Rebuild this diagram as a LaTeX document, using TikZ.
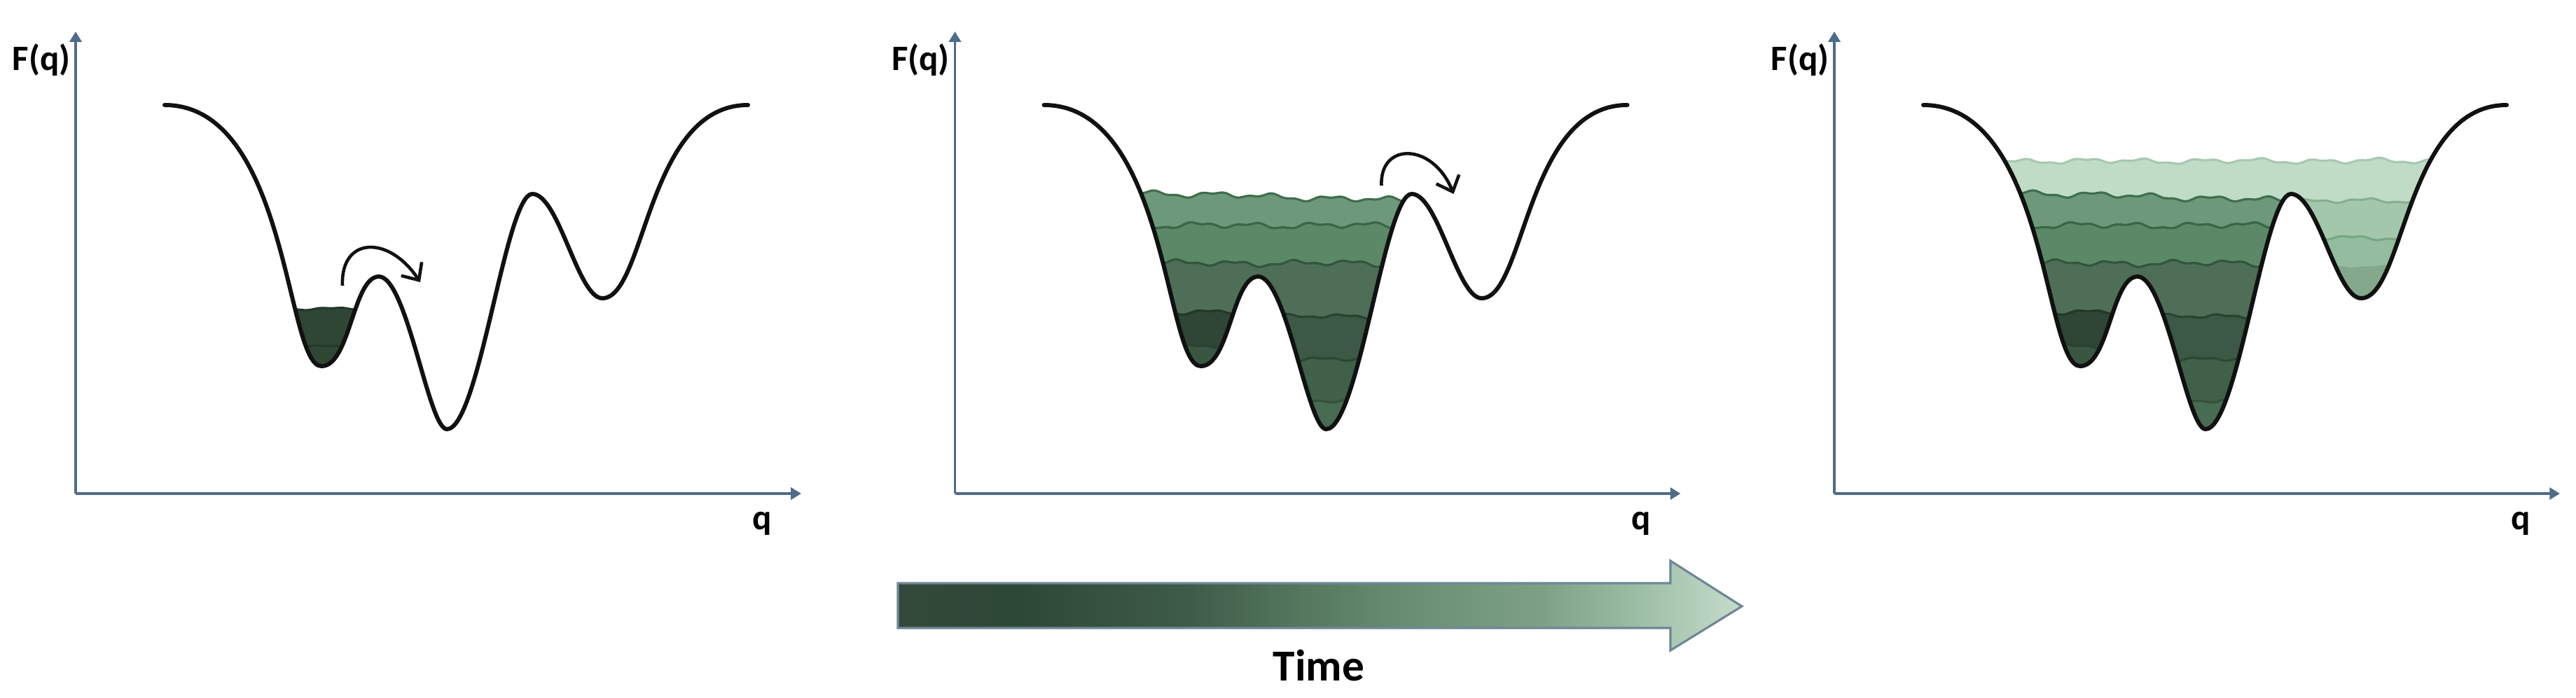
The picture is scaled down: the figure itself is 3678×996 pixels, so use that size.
\documentclass[tikz,border=0pt]{standalone}
\usepackage{fontspec}
\setmainfont{Carlito}
\usetikzlibrary{arrows.meta}
\definecolor{axisc}{HTML}{4F6B8A}
\definecolor{curvec}{HTML}{111111}
\definecolor{pOneFill}{HTML}{2F4635}
\definecolor{pOneLine}{HTML}{243829}
\definecolor{bAfill}{HTML}{6C997A}\definecolor{bAline}{HTML}{3F6E4C}
\definecolor{bBfill}{HTML}{5B8968}\definecolor{bBline}{HTML}{386646}
\definecolor{bCfill}{HTML}{4F6E58}\definecolor{bCline}{HTML}{30563C}
\definecolor{mDfill}{HTML}{2F4535}\definecolor{mDline}{HTML}{223827}
\definecolor{mEfill}{HTML}{3A5642}\definecolor{mEline}{HTML}{294330}
\definecolor{nDfill}{HTML}{3C5945}\definecolor{nDline}{HTML}{284330}
\definecolor{nEfill}{HTML}{40604A}\definecolor{nEline}{HTML}{2B4834}
\definecolor{nFfill}{HTML}{486B52}\definecolor{nFline}{HTML}{32533C}
\definecolor{topfill}{HTML}{C0DCC7}\definecolor{topline}{HTML}{A8C8B0}
\definecolor{rAfill}{HTML}{A2C7AB}\definecolor{rAline}{HTML}{86B090}
\definecolor{rBfill}{HTML}{94BC9E}\definecolor{rBline}{HTML}{7BA686}
\definecolor{rCfill}{HTML}{83A88B}
\definecolor{tA}{HTML}{34493B}
\definecolor{tB}{HTML}{2D4837}
\definecolor{tC}{HTML}{3E5A48}
\definecolor{tD}{HTML}{55785F}
\definecolor{tE}{HTML}{6A9175}
\definecolor{tF}{HTML}{7DA085}
\definecolor{tG}{HTML}{96B9A0}
\definecolor{tH}{HTML}{C6DCCB}
\definecolor{arrowrim}{HTML}{6F8796}
\pgfdeclarehorizontalshading{timeshade}{100bp}{color(0bp)=(tA); color(25bp)=(tA); color(32bp)=(tB); color(42bp)=(tC); color(49bp)=(tD); color(56bp)=(tE); color(63bp)=(tF); color(68bp)=(tG); color(75bp)=(tH); color(100bp)=(tH)}
% the energy landscape, in pixel units of one panel
\newcommand\fqcurve{(235,150) .. controls (412,150) and (408,523) .. (459,523)
  .. controls (500,523) and (504,395) .. (541,395)
  .. controls (581,395) and (612,613) .. (638,613)
  .. controls (684,613) and (722,277) .. (760,277)
  .. controls (798,277) and (825,426) .. (860,426)
  .. controls (922,426) and (923,150) .. (1068,150)}
% wavy water layer: x1 x2 level slope phase amplitude fill stroke
\newcommand\wav[8]{%
  \fill[#7] plot[domain=#1:#2,samples=150] (\x,{#3+#4*(\x-500)+#6*sin(4.3*\x+#5)+0.5*#6*sin(10.7*\x+1.7*#5)+0.4*#6*sin(1.9*\x+0.6*#5)}) -- (#2,720) -- (#1,720) -- cycle;
  \draw[#8,line width=0.9pt] plot[domain=#1:#2,samples=150] (\x,{#3+#4*(\x-500)+#6*sin(4.3*\x+#5)+0.5*#6*sin(10.7*\x+1.7*#5)+0.4*#6*sin(1.9*\x+0.6*#5)});}
\newcommand\panelframe[1]{%
  \coordinate (o#1) at (108,705);
  \coordinate (ytop#1) at (108,45);
  \coordinate (xend#1) at (1144,705);
  \draw[axisline] (o#1) -- (ytop#1);
  \draw[axisline] (o#1) -- (xend#1);
  \node[lab,anchor=base] (fq#1) at (59,100) {F(q)};
  \node[lab,anchor=base] (q#1) at (1088,756) {q};}
\newcommand\landclip{\clip \fqcurve -- (1068,0) -- (235,0) -- cycle;}
\newcommand\mainlayers{%
  \wav{330}{760}{279}{0.03}{20}{3}{bAfill}{bAline}
  \wav{330}{760}{322}{0}{130}{3}{bBfill}{bBline}
  \wav{330}{760}{376}{0}{250}{3}{bCfill}{bCline}
  \wav{380}{541}{446}{0}{60}{2.2}{mDfill}{mDline}
  \wav{380}{541}{495}{0}{170}{1.8}{mEfill}{mEline}
  \wav{541}{760}{452}{0}{300}{2.2}{nDfill}{nDline}
  \wav{541}{760}{513}{0}{90}{2}{nEfill}{nEline}
  \wav{541}{760}{573}{0}{210}{1.8}{nFfill}{nFline}}
\begin{document}
\begin{tikzpicture}[x=0.01cm,y=-0.01cm,
  axisline/.style={draw=axisc,line width=1.1pt,-{Triangle[length=4.2pt,width=4.8pt]}},
  lab/.style={font=\fontsize{14.5}{17}\selectfont\bfseries,inner sep=0pt,text=black},
  landline/.style={draw=curvec,line width=1.7pt,line cap=round,line join=round},
  hop/.style={draw=curvec,line width=1.3pt,-{Straight Barb[length=5.5pt,width=10pt]}}]
\useasboundingbox (0,0) rectangle (3678,996);
% ---------- panel 1
\begin{scope}
  \panelframe{a}
  \begin{scope}
    \landclip
    \wav{380}{541}{441}{0}{40}{1.2}{pOneFill}{pOneLine}
    \wav{380}{541}{495}{0}{100}{1}{pOneFill}{pOneLine}
  \end{scope}
  \draw[landline] \fqcurve;
  \coordinate (hopaS) at (489,408);
  \coordinate (hopaE) at (600,403);
  \draw[hop] (hopaS) .. controls (486,338) and (555,335) .. (hopaE);
\end{scope}
% ---------- panel 2
\begin{scope}[shift={(1255.5,0)}]
  \panelframe{b}
  \begin{scope}
    \landclip
    \mainlayers
  \end{scope}
  \draw[landline] \fqcurve;
  \coordinate (hopbS) at (717,265);
  \coordinate (hopbE) at (820,277);
  \draw[hop] (hopbS) .. controls (714,203) and (790,203) .. (hopbE);
\end{scope}
% ---------- panel 3
\begin{scope}[shift={(2511,0)}]
  \panelframe{c}
  \begin{scope}
    \landclip
    \wav{330}{990}{230}{0}{75}{2.6}{topfill}{topline}
    \mainlayers
    \wav{760}{990}{287}{0}{140}{2.2}{rAfill}{rAline}
    \wav{760}{990}{340}{0}{230}{2}{rBfill}{rBline}
    \wav{760}{990}{382}{0}{20}{1}{rCfill}{rCfill}
  \end{scope}
  \draw[landline] \fqcurve;
\end{scope}
% ---------- time arrow
\path[shading=timeshade,draw=arrowrim,line width=0.9pt,line join=miter]
  (1282,833) -- (2385,833) -- (2385,801) -- (2487,866) -- (2385,929) -- (2385,897) -- (1282,897) -- cycle;
\node[anchor=base,inner sep=0pt,font=\fontsize{18}{21}\selectfont\bfseries] (time) at (1883,972) {Time};
\end{tikzpicture}
\end{document}
